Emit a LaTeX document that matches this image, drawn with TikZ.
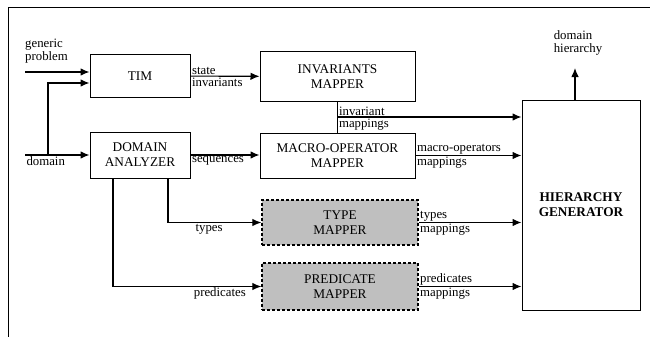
\documentclass[tikz,border=0pt]{standalone}
\usepackage{fontspec}
\setmainfont{Liberation Serif}
\usetikzlibrary{arrows.meta, positioning, calc}
\tikzset{every node/.style={font=\fontsize{13.3}{15}\selectfont}}

\begin{document}
\begin{tikzpicture}[x=1pt, y=-1pt]
  \tikzstyle{block} = [rectangle, minimum width=100pt, minimum height=42pt, inner sep=1pt, align=center, draw=black, line width=1pt]
  \tikzstyle{mapper} = [block, minimum width=155pt]
  \tikzstyle{optional} = [mapper, minimum width=156pt, fill=gray!50, dashed, dash pattern=on 3pt off 2pt, line width=1.3pt]
  \tikzstyle{lbl} = [font=\fontsize{12.8}{13}\selectfont, inner sep=1pt]
  \tikzstyle{arrow} = [line width=1.1pt, -{Latex[length=9pt, width=7.5pt]}]
  \useasboundingbox (0,0) rectangle (650,337);
  % frame
  \draw[line width=0.9pt] (8,337) -- (8,7) -- (650,7);
  \node (tim) [block] at (140,76) {TIM};
  \node (analyzer) [block, minimum height=46pt] at (140,155) {DOMAIN\\ANALYZER};
  \node (invmap) [mapper, minimum height=49pt] at (337.5,76.5) {INVARIANTS\\MAPPER};
  \node (macromap) [mapper, minimum height=45pt] at (337.5,155.5) {MACRO-OPERATOR\\MAPPER};
  \node (typemap) [optional, minimum height=45pt] at (340,222.5) {TYPE\\MAPPER};
  \node (predmap) [optional, minimum height=47pt] at (340,286.5) {PREDICATE\\MAPPER};
  \node (hiergen) [block, minimum width=118pt, minimum height=210pt, font=\fontsize{13.3}{15}\selectfont\bfseries] at (581,205) {HIERARCHY\\GENERATOR};
  \coordinate (problem) at (25,72);
  \coordinate (domain) at (25,155);
  \coordinate (split) at (48,155);
  \coordinate (invsplit) at ($(invmap.south)!0.5!(macromap.north)$);
  \coordinate (result) at (575,68);
  \node (problemtext) [lbl, above right, align=left, inner sep=0pt] at (25,63) {generic\\problem};
  \node (resulttext) [lbl, above, align=left, inner sep=2pt] at (578,57) {domain\\hierarchy};
  % inputs
  \draw [arrow] (problem) -- (problem -| tim.west);
  \draw [arrow] (domain) -- (analyzer.west) node[lbl, pos=0, below right] {domain};
  \draw [arrow] (split) |- ([yshift=-7pt]tim.west);
  % first stage
  \draw [arrow] (tim) -- (invmap) node[lbl, pos=0, above right] {state} node[lbl, pos=0, below right] {invariants};
  \draw [arrow] (analyzer) -- (analyzer -| macromap.west) node[lbl, pos=0, below right] {sequences};
  \draw [arrow] ([xshift=28pt]analyzer.south) |- (typemap.west) node[lbl, pos=0.72, below] {types};
  \draw [arrow] ([xshift=-27pt]analyzer.south) |- (predmap.west) node[lbl, pos=0.86, below] {predicates};
  % mappings
  \draw [line width=1.1pt] (invmap.south) -- (macromap.north);
  \draw [arrow] (invsplit) -- (invsplit -| hiergen.west) node[lbl, pos=0, above right] {invariant} node[lbl, pos=0, below right] {mappings};
  \draw [arrow] (macromap.east) -- (macromap.east -| hiergen.west) node[lbl, pos=0, above right] {macro-operators} node[lbl, pos=0, below right] {mappings};
  \draw [arrow] (typemap.east) -- (typemap.east -| hiergen.west) node[lbl, pos=0, above right] {types} node[lbl, pos=0, below right] {mappings};
  \draw [arrow] (predmap.east) -- (predmap.east -| hiergen.west) node[lbl, pos=0, above right] {predicates} node[lbl, pos=0, below right] {mappings};
  % output
  \draw [arrow] (hiergen.north -| result) -- (result);
\end{tikzpicture}
\end{document}
